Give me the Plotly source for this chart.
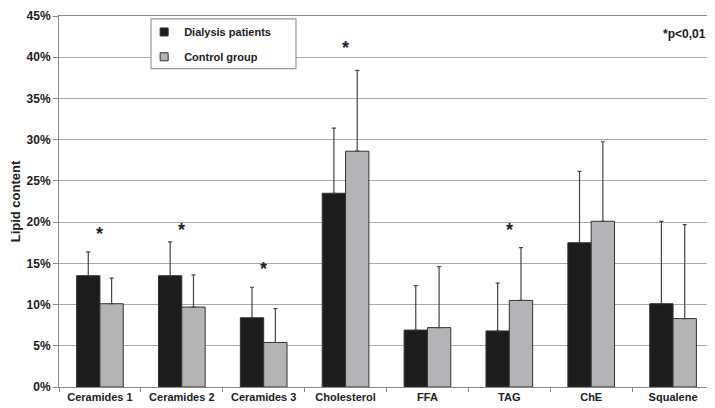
import plotly.graph_objects as go

categories = ["Ceramides 1", "Ceramides 2", "Ceramides 3", "Cholesterol", "FFA", "TAG", "ChE", "Squalene"]
dialysis_mean = [13.5, 13.5, 8.4, 23.5, 6.9, 6.8, 17.5, 10.1]
dialysis_sd = [2.9, 4.1, 3.7, 7.9, 5.4, 5.8, 8.65, 10.0]
control_mean = [10.1, 9.7, 5.4, 28.6, 7.2, 10.5, 20.1, 8.3]
control_sd = [3.1, 3.9, 4.1, 9.8, 7.4, 6.4, 9.65, 11.4]
star_categories = ["Ceramides 1", "Ceramides 2", "Ceramides 3", "Cholesterol", "TAG"]
star_y = [18.5, 19.0, 14.3, 41.1, 19.0]
y_ticks = [0, 5, 10, 15, 20, 25, 30, 35, 40, 45]

FONT = "Liberation Sans, Arial, sans-serif"
BLACK = "#1c1c1c"
GRAY = "#b4b4b6"
EDGE = "#333333"
ERR = "#454545"

fig = go.Figure()
fig.add_trace(go.Bar(
    x=categories, y=dialysis_mean, name="Dialysis patients", showlegend=False,
    marker=dict(color=BLACK, line=dict(color=EDGE, width=1)),
    error_y=dict(type="data", symmetric=False, array=dialysis_sd,
                 arrayminus=[0] * len(dialysis_sd), color=ERR, thickness=1.2, width=2),
))
fig.add_trace(go.Bar(
    x=categories, y=control_mean, name="Control group", showlegend=False,
    marker=dict(color=GRAY, line=dict(color=EDGE, width=1)),
    error_y=dict(type="data", symmetric=False, array=control_sd,
                 arrayminus=[0] * len(control_sd), color=ERR, thickness=1.2, width=2),
))
# legend-only entries
fig.add_trace(go.Scatter(x=[None], y=[None], mode="markers", name="Dialysis patients",
                         marker=dict(symbol="square", size=8, color=BLACK, line=dict(color=EDGE, width=1)),
                         legend="legend"))
fig.add_trace(go.Scatter(x=[None], y=[None], mode="markers", name="Control group",
                         marker=dict(symbol="square", size=8, color=GRAY, line=dict(color=EDGE, width=1)),
                         legend="legend2"))

for c, yv in zip(star_categories, star_y):
    fig.add_annotation(x=c, y=yv, text="<b>*</b>", showarrow=False,
                       font=dict(family=FONT, size=18, color="#222"), yanchor="middle")

fig.add_annotation(xref="paper", yref="paper", x=0.991, y=0.952, text="<b>*p<0,01</b>",
                   showarrow=False, xanchor="right", yanchor="middle",
                   font=dict(family=FONT, size=12, color="#222"))

fig.add_shape(type="rect", xref="paper", yref="paper", x0=0.1405, x1=0.3618, y0=0.858, y1=0.992,
              line=dict(color="#999999", width=1.2), fillcolor="white", layer="above")

legend_common = dict(x=0.13, xanchor="left", yanchor="middle", bgcolor="rgba(0,0,0,0)",
                     borderwidth=0, font=dict(family=FONT, size=11, color="#222", weight="bold"))

# the page body adds an 8px offset; size the figure so the plot lands where the reference has it
fig.update_layout(
    width=707, height=400,
    margin=dict(l=51, r=1, t=6, b=21),
    paper_bgcolor="white", plot_bgcolor="white",
    barmode="group", bargap=0.43, bargroupgap=0,
    legend=dict(y=0.957, **legend_common),
    legend2=dict(y=0.890, **legend_common),
    font=dict(family=FONT, color="#222"),
    xaxis=dict(showgrid=False, showline=True, mirror=True, linecolor="#888", linewidth=1,
               ticks="outside", tickson="boundaries", ticklen=4, tickcolor="#888",
               tickfont=dict(family=FONT, size=11, color="#222", weight="bold")),
    yaxis=dict(range=[0, 45], tickvals=y_ticks, ticktext=[f"{v}%" for v in y_ticks],
               showgrid=True, gridcolor="#a8a8a8", gridwidth=1,
               showline=True, linecolor="#888", linewidth=1,
               ticks="outside", ticklen=5, tickcolor="#888", ticklabeloverflow="allow",
               tickfont=dict(family=FONT, size=12, color="#222", weight="bold"),
               zeroline=False,
               title=dict(text="Lipid content", standoff=5,
                          font=dict(family=FONT, size=13, color="#222", weight="bold"))),
)

fig.write_html("out.html")
